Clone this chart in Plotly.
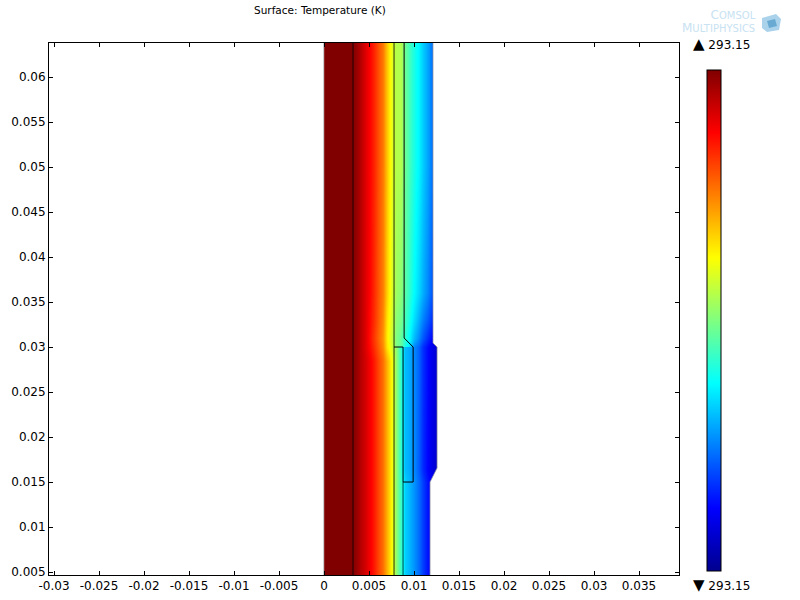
import plotly.graph_objects as go

# Field samples (colour position 0..1 along the jet scale)
x_cols = [0, .0005, .001, .0015, .002, .0025, .003, .0035, .004, .0045, .005, .0055, .006,
          .0065, .007, .0075, .008, .0085, .009, .0095, .01, .0105, .011, .0115, .012, .0125]
y_rows = [.004, .015, .0165, .0285, .02995, .03005, .031, .033, .036, .05, .065]
row_004 = [1, 1, 1, 1, 1, 1, 1, .98, .95, .92, .89, .85, .81, .765, .70, .62, .52, .43, .33, .30, .27, .23, .185, .14, .12, .12]
row_015 = [1, 1, 1, 1, 1, 1, 1, .98, .95, .92, .89, .85, .81, .765, .70, .62, .52, .43, .33, .30, .27, .23, .185, .14, .12, .12]
row_0165 = [1, 1, 1, 1, 1, 1, 1, .98, .95, .92, .89, .85, .81, .765, .70, .62, .52, .42, .31, .29, .26, .215, .165, .125, .095, .07]
row_0285 = [1, 1, 1, 1, 1, 1, 1, .98, .95, .92, .89, .85, .81, .765, .70, .62, .52, .42, .31, .29, .26, .22, .17, .13, .10, .075]
row_02995 = [1, 1, 1, 1, 1, 1, 1, .98, .95, .91, .875, .83, .79, .74, .65, .585, .52, .42, .31, .29, .26, .22, .17, .13, .10, .075]
row_03005 = [1, 1, 1, 1, 1, 1, 1, .98, .95, .91, .875, .83, .79, .74, .65, .585, .50, .47, .40, .34, .26, .22, .17, .13, .10, .075]
row_031 = [1, 1, 1, 1, 1, 1, 1, .98, .95, .91, .87, .82, .78, .73, .64, .575, .50, .47, .42, .365, .31, .26, .21, .165, .13, .12]
row_033 = [1, 1, 1, 1, 1, 1, 1, .98, .95, .91, .875, .83, .79, .74, .65, .585, .51, .49, .44, .39, .345, .295, .25, .21, .17, .16]
row_036 = [1, 1, 1, 1, 1, 1, 1, .98, .95, .91, .88, .835, .795, .75, .67, .59, .53, .51, .46, .415, .375, .335, .295, .255, .21, .20]
row_050 = [1, 1, 1, 1, 1, 1, 1, .98, .95, .91, .88, .84, .80, .755, .68, .60, .55, .55, .48, .435, .40, .365, .325, .285, .24, .24]
row_065 = [1, 1, 1, 1, 1, 1, 1, .98, .95, .91, .88, .84, .80, .755, .68, .60, .55, .55, .48, .435, .40, .365, .325, .285, .24, .24]

# Geometry outlines (metres)
edge_x = [.01211, .01211, .01256, .01256, .01178, .01178]
edge_y = [.065, .03044, .03, .01656, .015, .004]
seam_x = [.00322, .00322]
seam_y = [.004, .065]
wall1_x = [.00778, .00778]
wall1_y = [.004, .065]
wall2_x = [.00878, .00878]
wall2_y = [.004, .015]
sleeve_x = [.0089, .0089, .0099, .0099, .00878, .00878, .00778]
sleeve_y = [.065, .031, .03, .015, .015, .03, .03]
left_x = [-.00004, -.00004]
left_y = [.004, .065]

x_ticks = [-.03, -.025, -.02, -.015, -.01, -.005, 0, .005, .01, .015, .02, .025, .03, .035]
x_labels = ["-0.03", "-0.025", "-0.02", "-0.015", "-0.01", "-0.005", "0", "0.005", "0.01",
            "0.015", "0.02", "0.025", "0.03", "0.035"]
y_ticks = [.005, .01, .015, .02, .025, .03, .035, .04, .045, .05, .055, .06]
y_labels = ["0.005", "0.01", "0.015", "0.02", "0.025", "0.03", "0.035", "0.04", "0.045",
            "0.05", "0.055", "0.06"]
jet = [[0, "rgb(0,0,143)"], [.125, "rgb(0,0,255)"], [.375, "rgb(0,255,255)"],
       [.625, "rgb(255,255,0)"], [.875, "rgb(255,0,0)"], [1, "rgb(128,0,0)"]]
title_text = "Surface: Temperature (K)"
max_label = '<span style="font-size:15px">▲</span> 293.15'
min_label = '<span style="font-size:15px">▼</span> 293.15'
logo_text = '<span style="font-size:12px">C</span>OMSOL<br><span style="font-size:12px">M</span>ULTIPHYSICS'

L, R, T, B = 49, 679, 43, 575
def px(x):
    return (x - L) / (R - L)
def py(y):
    return (B - y) / (B - T)

fig = go.Figure()
fig.add_trace(go.Heatmap(
    x=x_cols, y=y_rows,
    z=[row_004, row_015, row_0165, row_0285, row_02995, row_03005, row_031, row_033, row_036, row_050, row_065],
    zmin=0, zmax=1, zsmooth="best", colorscale=jet, hoverinfo="skip",
    colorbar=dict(x=px(707), xanchor="left",
                  y=py(571), yanchor="bottom", len=501 / 532, lenmode="fraction",
                  thickness=14, thicknessmode="pixels", xpad=0, ypad=0,
                  outlinecolor="black", outlinewidth=1, showticklabels=False, ticks="")))
# white cover on both sides of the outer edge
fig.add_trace(go.Scatter(x=edge_x + [.0135, .0135], y=edge_y + [.004, .065], mode="lines",
                         fill="toself", fillcolor="white", line=dict(width=0),
                         hoverinfo="skip", showlegend=False))
fig.add_trace(go.Scatter(x=[-.001, 0, 0, -.001], y=[.004, .004, .065, .065], mode="lines",
                         fill="toself", fillcolor="white", line=dict(width=0),
                         hoverinfo="skip", showlegend=False))
for xs, ys, col, w in [
    (left_x, left_y, "rgb(195,195,195)", 1),
    (edge_x, edge_y, "rgba(150,150,150,0.7)", 1),
    (seam_x, seam_y, "rgba(0,0,0,0.8)", 1),
    (wall1_x, wall1_y, "rgba(0,0,0,0.55)", 1.5),
    (wall2_x, wall2_y, "rgba(0,0,0,0.5)", 1.5),
    (sleeve_x, sleeve_y, "black", 1),
]:
    fig.add_trace(go.Scatter(x=xs, y=ys, mode="lines", line=dict(color=col, width=w),
                             hoverinfo="skip", showlegend=False))

font = dict(family="DejaVu Sans", size=12, color="black")
axis = dict(showgrid=False, zeroline=False, showline=True, linecolor="black", linewidth=1,
            mirror="ticks", ticks="inside", ticklen=4, tickwidth=1, tickcolor="black",
            tickfont=font, tickmode="array")

def note(text, x, y, size=12, color="black", anchor="left"):
    return dict(text=text, xref="paper", yref="paper", x=px(x), y=py(y), showarrow=False,
                xanchor=anchor, yanchor="middle", align=anchor, xshift=0,
                borderpad=0, font=dict(family="DejaVu Sans", size=size, color=color))

logo = "rgb(200,226,242)"
def cube(points):
    return "M" + " L".join(f"{px(a):.5f},{py(b):.5f}" for a, b in points) + " Z"

fig.update_layout(
    width=800, height=600, paper_bgcolor="white", plot_bgcolor="white",
    margin=dict(l=L, r=800 - R, t=T, b=600 - B, autoexpand=False), showlegend=False, font=font,
    xaxis=dict(axis, range=[-.03056, .03944], tickvals=x_ticks, ticktext=x_labels),
    yaxis=dict(axis, range=[.00467, .06378], tickvals=y_ticks, ticktext=y_labels),
    annotations=[
        note(title_text, 320, 10, size=10.5, anchor="center"),
        note(max_label, 692, 44),
        note(min_label, 692, 585),
        note(logo_text, 757, 22, 10, logo, anchor="right"),
    ],
    shapes=[
        dict(type="path", xref="paper", yref="paper", line=dict(width=0), fillcolor="rgb(170,210,235)",
             path=cube([(762, 18), (776, 14), (781, 19), (779, 30), (767, 32), (762, 28)])),
        dict(type="path", xref="paper", yref="paper", line=dict(width=0), fillcolor="rgb(105,170,210)",
             path=cube([(767, 21), (775, 19), (777, 26), (769, 28)])),
    ],
)
fig.write_html("out.html", post_script="document.body.style.margin='0';",
               config={"displayModeBar": False})
